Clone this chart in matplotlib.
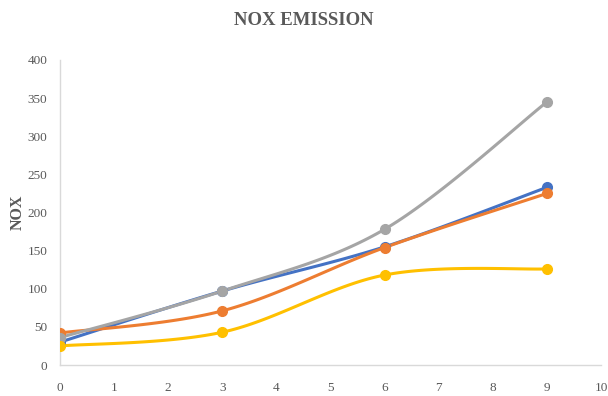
import numpy as np
import matplotlib
matplotlib.use("Agg")
import matplotlib.pyplot as plt

x_vals = [0, 3, 6, 9]
series_a = [30, 97, 155, 233]
series_b = [42, 71, 154, 225]
series_c = [36, 97, 178, 345]
series_d = [25, 43, 118, 126]
colors = ["#4472C4", "#ED7D31", "#A5A5A5", "#FFC000"]


def smooth(xs, ys, n=40):
    """Catmull-Rom style Bezier smoothing through every point."""
    xs = np.asarray(xs, float)
    ys = np.asarray(ys, float)
    px = np.concatenate([[xs[0]], xs, [xs[-1]]])
    py = np.concatenate([[ys[0]], ys, [ys[-1]]])
    out_x, out_y = [], []
    t = np.linspace(0, 1, n)
    for i in range(1, len(px) - 2):
        p0 = np.array([px[i], py[i]])
        p3 = np.array([px[i + 1], py[i + 1]])
        p1 = p0 + (np.array([px[i + 1], py[i + 1]]) - np.array([px[i - 1], py[i - 1]])) / 6
        p2 = p3 - (np.array([px[i + 2], py[i + 2]]) - np.array([px[i], py[i]])) / 6
        b = ((1 - t) ** 3)[:, None] * p0 + (3 * (1 - t) ** 2 * t)[:, None] * p1 \
            + (3 * (1 - t) * t ** 2)[:, None] * p2 + (t ** 3)[:, None] * p3
        out_x.extend(b[:, 0])
        out_y.extend(b[:, 1])
    return out_x, out_y


fig = plt.figure(figsize=(6.08, 3.96), dpi=100)
ax = fig.add_axes([60 / 608, 1 - 365 / 396, 541 / 608, 305 / 396])

for ys, c in zip([series_a, series_b, series_c, series_d], colors):
    sx, sy = smooth(x_vals, ys)
    ax.plot(sx, sy, color=c, lw=2.2, solid_capstyle="round", zorder=2)
    ax.plot(x_vals, ys, "o", color=c, ms=7, zorder=3)

ax.set_xlim(0, 10)
ax.set_ylim(0, 400)
ax.set_xticks(range(0, 11))
ax.set_yticks(range(0, 401, 50))

for side in ["top", "right"]:
    ax.spines[side].set_visible(False)
for side in ["left", "bottom"]:
    ax.spines[side].set_color("#D9D9D9")
    ax.spines[side].set_linewidth(1.0)
ax.tick_params(length=0, labelsize=9.5, colors="#595959")
ax.tick_params(axis="x", pad=12)
ax.tick_params(axis="y", pad=9)
for lab in ax.get_xticklabels() + ax.get_yticklabels():
    lab.set_family("Liberation Serif")

ax.set_ylabel("NOX", family="Liberation Serif", fontsize=11.5, fontweight="bold",
              color="#595959", va="center")
ax.yaxis.set_label_coords(-0.079, 0.5)
fig.text(0.5, 1 - 20.5 / 396, "NOX EMISSION", ha="center", va="center",
         family="Liberation Serif", fontsize=13.5, fontweight="bold", color="#595959")

fig.savefig("out.png", dpi=100)
